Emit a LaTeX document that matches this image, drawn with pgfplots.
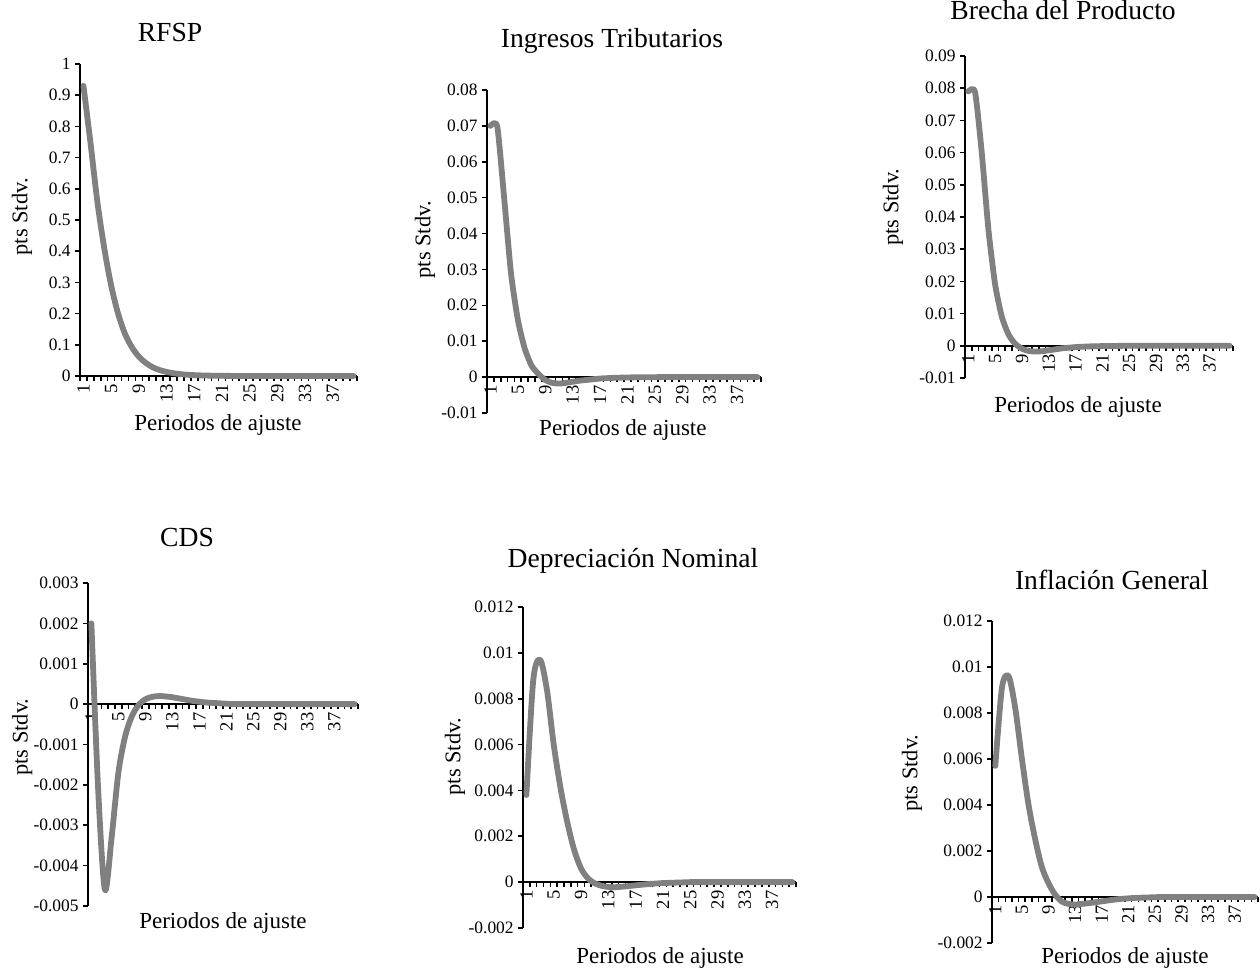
\documentclass[border=0pt]{standalone}
\usepackage{pgfplots}
\pgfplotsset{compat=1.18}
\usepackage{fontspec}
\setmainfont{Liberation Serif}
\definecolor{cgray}{RGB}{128,128,128}
\pgfplotsset{
 panel/.style={
  scale only axis,
  anchor=south west,
  axis y line=left,
  axis x line=middle,
  axis line style={-, line width=1pt, black},
  xmin=0.5, xmax=40.5,
  xtick={1,5,...,37},
  minor xtick={0.5,1.5,...,40.5},
  major x tick style={draw=none},
  minor x tick style={line width=0.8pt, black},
  minor tick length=2.5pt,
  major tick length=2.5pt,
  ytick style={line width=0.8pt, black},
  tick align=outside,
  scaled y ticks=false,
  /pgf/number format/assume math mode=true,
  xticklabel style={rotate=90, anchor=east, font=\fontsize{9.3}{10}\selectfont, inner sep=1.5pt},
  yticklabel style={font=\fontsize{8.7}{10}\selectfont, /pgf/number format/fixed, /pgf/number format/precision=3, inner sep=2pt},
  hide obscured x ticks=false, hide obscured y ticks=false,
  title style={font=\fontsize{13.8}{16}\selectfont, anchor=center},
  xlabel style={font=\fontsize{11.5}{14}\selectfont, anchor=center},
  ylabel style={font=\fontsize{11.2}{14}\selectfont, anchor=center},
  xlabel={Periodos de ajuste}, ylabel={pts Stdv.},
  clip=false,
 },
 curve/.style={color=cgray, line width=2.9pt, smooth, tension=0.5, line cap=round, line join=round, mark=none},
}
\begin{document}
\begin{tikzpicture}
\useasboundingbox (0,0) rectangle (630pt,484pt);
% Panel 1: RFSP
\begin{axis}[panel, at={(40pt,296pt)}, width=138.5pt, height=156pt,
  ymin=0, ymax=1, ytick={0,0.1,0.2,0.3,0.4,0.5,0.6,0.7,0.8,0.9,1},
  title={RFSP}, title style={at={(axis description cs:0.325,1.061)}},
  xlabel style={at={(axis description cs:0.498,-0.157)}},
  ylabel style={at={(axis description cs:-0.209,0.510)}}]
\addplot[curve] coordinates {(1,0.93) (2,0.75) (3,0.56) (4,0.41) (5,0.29) (6,0.2) (7,0.135) (8,0.092) (9,0.062) (10,0.042) (11,0.028) (12,0.019) (13,0.013) (14,0.009) (15,0.006) (16,0.004) (17,0.0027) (18,0.0018) (19,0.0012) (20,0.0008) (21,0.0005) (22,0.0003) (23,0.0002) (24,0.0001) (25,0) (26,0) (27,0) (28,0) (29,0) (30,0) (31,0) (32,0) (33,0) (34,0) (35,0) (36,0) (37,0) (38,0) (39,0) (40,0)};
\end{axis}
% Panel 2: Ingresos Tributarios
\begin{axis}[panel, at={(243.5pt,277.5pt)}, width=137pt, height=161.5pt,
  ymin=-0.01, ymax=0.08, ytick={-0.01,0,0.01,0.02,0.03,0.04,0.05,0.06,0.07,0.08},
  title={Ingresos Tributarios}, title style={at={(axis description cs:0.456,1.115)}},
  xlabel style={at={(axis description cs:0.496,-0.053)}},
  ylabel style={at={(axis description cs:-0.226,0.536)}}]
\addplot[curve, tension=0.38] coordinates {(1,0.070) (2,0.0698) (3,0.050) (4,0.029) (5,0.016) (6,0.008) (7,0.0032) (8,0.0009) (9,-0.0008) (10,-0.0016) (11,-0.0018) (12,-0.0016) (13,-0.0013) (14,-0.001) (15,-0.0008) (16,-0.0006) (17,-0.0004) (18,-0.0003) (19,-0.0002) (20,-0.00015) (21,-0.0001) (22,-0.00007) (23,-0.00005) (24,-0.00003) (25,-0.00002) (26,0) (27,0) (28,0) (29,0) (30,0) (31,0) (32,0) (33,0) (34,0) (35,0) (36,0) (37,0) (38,0) (39,0) (40,0)};
\end{axis}
% Panel 3: Brecha del Producto
\begin{axis}[panel, at={(482.5pt,295pt)}, width=134pt, height=161pt,
  ymin=-0.01, ymax=0.09, ytick={-0.01,0,0.01,0.02,0.03,0.04,0.05,0.06,0.07,0.08,0.09},
  title={Brecha del Producto}, title style={at={(axis description cs:0.366,1.106)}},
  xlabel style={at={(axis description cs:0.422,-0.090)}},
  ylabel style={at={(axis description cs:-0.269,0.531)}}]
\addplot[curve, tension=0.38] coordinates {(1,0.079) (2,0.0788) (3,0.060) (4,0.036) (5,0.019) (6,0.009) (7,0.0035) (8,0.0006) (9,-0.0009) (10,-0.0016) (11,-0.0018) (12,-0.0017) (13,-0.0014) (14,-0.0011) (15,-0.0008) (16,-0.0006) (17,-0.0004) (18,-0.0003) (19,-0.0002) (20,-0.00014) (21,-0.0001) (22,-0.00006) (23,-0.00004) (24,-0.00002) (25,0) (26,0) (27,0) (28,0) (29,0) (30,0) (31,0) (32,0) (33,0) (34,0) (35,0) (36,0) (37,0) (38,0) (39,0) (40,0)};
\end{axis}
% Panel 4: CDS
\begin{axis}[panel, at={(44pt,31pt)}, width=135pt, height=161.5pt,
  ymin=-0.005, ymax=0.003, ytick={-0.005,-0.004,-0.003,-0.002,-0.001,0,0.001,0.002,0.003},
  title={CDS}, title style={at={(axis description cs:0.367,1.105)}},
  xlabel style={at={(axis description cs:0.5,-0.053)}},
  ylabel style={at={(axis description cs:-0.244,0.523)}}]
\addplot[curve] coordinates {(1,0.002) (2,-0.0021) (3,-0.0046) (4,-0.0033) (5,-0.0017) (6,-0.0008) (7,-0.0003) (8,-0.00002) (9,0.00012) (10,0.00018) (11,0.0002) (12,0.00019) (13,0.00017) (14,0.00014) (15,0.00011) (16,0.00008) (17,0.00006) (18,0.00004) (19,0.00003) (20,0.00002) (21,0.00001) (22,0) (23,0) (24,0) (25,0) (26,0) (27,0) (28,0) (29,0) (30,0) (31,0) (32,0) (33,0) (34,0) (35,0) (36,0) (37,0) (38,0) (39,0) (40,0)};
\end{axis}
% Panel 5: Depreciacion Nominal
\begin{axis}[panel, at={(261.5pt,20pt)}, width=136.5pt, height=160.5pt,
  ymin=-0.002, ymax=0.012, ytick={-0.002,0,0.002,0.004,0.006,0.008,0.01,0.012},
  title={Depreciación Nominal}, title style={at={(axis description cs:0.403,1.106)}},
  xlabel style={at={(axis description cs:0.502,-0.093)}},
  ylabel style={at={(axis description cs:-0.249,0.533)}}]
\addplot[curve] coordinates {(1,0.0038) (2,0.0088) (3,0.0097) (4,0.0084) (5,0.006) (6,0.0041) (7,0.0026) (8,0.0014) (9,0.0006) (10,0.00017) (11,-0.00005) (12,-0.00016) (13,-0.00021) (14,-0.00022) (15,-0.0002) (16,-0.00017) (17,-0.00014) (18,-0.00011) (19,-0.00008) (20,-0.00006) (21,-0.00004) (22,-0.00003) (23,-0.00002) (24,-0.00001) (25,0) (26,0) (27,0) (28,0) (29,0) (30,0) (31,0) (32,0) (33,0) (34,0) (35,0) (36,0) (37,0) (38,0) (39,0) (40,0)};
\end{axis}
% Panel 6: Inflacion General
\begin{axis}[panel, at={(496pt,12.5pt)}, width=133pt, height=161pt,
  ymin=-0.002, ymax=0.012, ytick={-0.002,0,0.002,0.004,0.006,0.008,0.01,0.012},
  title={Inflación General}, title style={at={(axis description cs:0.451,1.090)}},
  xlabel style={at={(axis description cs:0.5,-0.047)}},
  ylabel style={at={(axis description cs:-0.301,0.528)}}]
\addplot[curve] coordinates {(1,0.0057) (2,0.0091) (3,0.0096) (4,0.0082) (5,0.006) (6,0.004) (7,0.0025) (8,0.0013) (9,0.0006) (10,0.0001) (11,-0.0002) (12,-0.0003) (13,-0.00033) (14,-0.0003) (15,-0.00027) (16,-0.00023) (17,-0.00019) (18,-0.00015) (19,-0.00011) (20,-0.00008) (21,-0.00006) (22,-0.00004) (23,-0.00003) (24,-0.00002) (25,-0.00001) (26,0) (27,0) (28,0) (29,0) (30,0) (31,0) (32,0) (33,0) (34,0) (35,0) (36,0) (37,0) (38,0) (39,0) (40,0)};
\end{axis}
\end{tikzpicture}
\end{document}
